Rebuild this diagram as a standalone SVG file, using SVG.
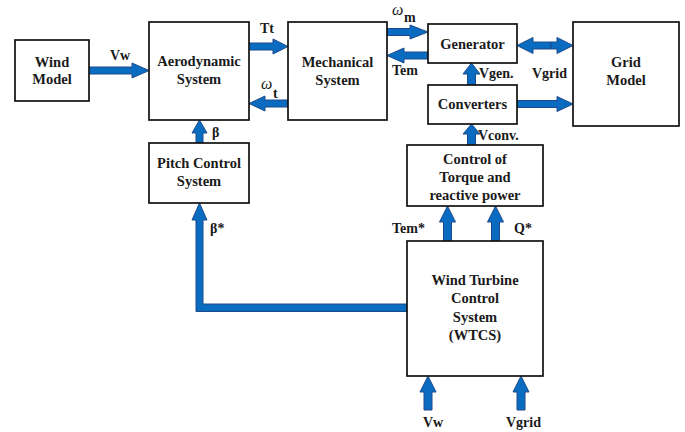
<svg xmlns="http://www.w3.org/2000/svg" width="685" height="432" viewBox="0 0 685 432">
  <style>
    .box { fill: #ffffff; stroke: #111111; stroke-width: 1.7; }
    .arr { fill: #0a6cc0; stroke: #1d4a8a; stroke-width: 1; stroke-linejoin: miter; }
    .t { font-family: "Liberation Serif", "Times New Roman", serif; font-weight: bold; font-size: 14.5px; fill: #1a1a1a; text-anchor: middle; }
    .lbl { font-family: "Liberation Serif", "Times New Roman", serif; font-weight: bold; font-size: 14px; fill: #1a1a1a; }
    .om { font-family: "Liberation Serif", "Times New Roman", serif; font-style: italic; font-size: 16px; fill: #1a1a1a; }
    .sub { font-family: "Liberation Serif", "Times New Roman", serif; font-weight: bold; font-size: 14px; fill: #1a1a1a; }
  </style>

  <!-- connectors -->
  <g id="connectors">
    <!-- Wind Model -> Aerodynamic (Vw) -->
    <polygon class="arr" points="89,67 132,67 132,63 149,70.5 132,78 132,74 89,74"/>
    <!-- Aerodynamic -> Mechanical (Tt) -->
    <polygon class="arr" points="249,43 273,43 273,39 288,46.5 273,54 273,50 249,50"/>
    <!-- Mechanical -> Aerodynamic (omega t) -->
    <polygon class="arr" points="288,100 265,100 265,96 249,103.5 265,111 265,107 288,107"/>
    <!-- Mechanical -> Generator (omega m) -->
    <polygon class="arr" points="387,28.5 410,28.5 410,25 428,32 410,39 410,35.5 387,35.5"/>
    <!-- Generator -> Mechanical (Tem) -->
    <polygon class="arr" points="428,52 404,52 404,48 387,55.5 404,63 404,59 428,59"/>
    <!-- Generator <-> Grid Model -->
    <polygon class="arr" points="517,45.5 533,37.5 533,42 551,42 551,49 533,49 533,53.5"/>
    <polygon class="arr" points="573,45.5 557,37.5 557,42 551,42 551,49 557,49 557,53.5"/>
    <!-- Converters -> Grid Model -->
    <polygon class="arr" points="517,100.5 557,100.5 557,96.5 573,104 557,111.5 557,107.5 517,107.5"/>
    <!-- Converters -> Generator (Vgen.) -->
    <polygon class="arr" points="467.5,85 467.5,74 463,74 471.5,63 480,74 475.5,74 475.5,85"/>
    <!-- Control of Torque -> Converters (Vconv.) -->
    <polygon class="arr" points="467.5,145 467.5,134 463,134 471.5,124 480,134 475.5,134 475.5,145"/>
    <!-- Pitch Control -> Aerodynamic (beta) -->
    <polygon class="arr" points="196,143 196,133 192,133 199.5,120 207,133 203,133 203,143"/>
    <!-- WTCS -> Pitch Control (beta*) -->
    <polygon class="arr" points="407,311.5 196,311.5 196,220 192,220 199.5,203 207,220 203,220 203,304 407,304"/>
    <!-- WTCS -> Control of Torque (Tem*, Q*) -->
    <polygon class="arr" points="443.5,241 443.5,222 439.5,222 447.5,206 455.5,222 451.5,222 451.5,241"/>
    <polygon class="arr" points="491.5,241 491.5,222 487.5,222 495.5,206 503.5,222 499.5,222 499.5,241"/>
    <!-- External inputs to WTCS (Vw, Vgrid) -->
    <polygon class="arr" points="424,410 424,392 420,392 428,376 436,392 432,392 432,410"/>
    <polygon class="arr" points="517,410 517,392 513,392 521,376 529,392 525,392 525,410"/>
  </g>

  <!-- nodes -->
  <g id="wind-model">
    <rect class="box" x="15" y="40" width="74" height="61"/>
    <text class="t" x="52" y="67">Wind</text>
    <text class="t" x="52" y="84">Model</text>
  </g>
  <g id="aerodynamic-system">
    <rect class="box" x="149" y="22" width="100" height="98"/>
    <text class="t" x="199" y="66">Aerodynamic</text>
    <text class="t" x="199" y="84">System</text>
  </g>
  <g id="mechanical-system">
    <rect class="box" x="288" y="22" width="99" height="98"/>
    <text class="t" x="337.5" y="67">Mechanical</text>
    <text class="t" x="337.5" y="85">System</text>
  </g>
  <g id="generator">
    <rect class="box" x="428" y="24" width="89" height="39"/>
    <text class="t" x="472.5" y="49">Generator</text>
  </g>
  <g id="converters">
    <rect class="box" x="428" y="85" width="89" height="39"/>
    <text class="t" x="472.5" y="109">Converters</text>
  </g>
  <g id="grid-model">
    <rect class="box" x="573" y="22" width="106" height="104"/>
    <text class="t" x="626" y="67">Grid</text>
    <text class="t" x="626" y="85">Model</text>
  </g>
  <g id="pitch-control">
    <rect class="box" x="149" y="143" width="100" height="60"/>
    <text class="t" x="199" y="168">Pitch Control</text>
    <text class="t" x="199" y="186">System</text>
  </g>
  <g id="torque-control">
    <rect class="box" x="407" y="145" width="136" height="61"/>
    <text class="t" x="475" y="164">Control of</text>
    <text class="t" x="475" y="182">Torque and</text>
    <text class="t" x="475" y="200">reactive power</text>
  </g>
  <g id="wtcs">
    <rect class="box" x="407" y="241" width="136" height="135"/>
    <text class="t" x="475" y="285">Wind Turbine</text>
    <text class="t" x="475" y="303">Control</text>
    <text class="t" x="475" y="322">System</text>
    <text class="t" x="475" y="340">(WTCS)</text>
  </g>

  <!-- signal labels -->
  <g id="labels">
    <text class="lbl" x="110" y="60">Vw</text>
    <text class="lbl" x="260" y="33">Tt</text>
    <text class="om" x="261" y="89">ω</text>
    <text class="sub" x="273" y="98">t</text>
    <text class="om" x="392" y="15">ω</text>
    <text class="sub" x="404" y="22">m</text>
    <text class="lbl" x="392" y="75">Tem</text>
    <text class="lbl" x="479" y="78">Vgen.</text>
    <text class="lbl" x="532" y="78">Vgrid</text>
    <text class="lbl" x="478" y="140">Vconv.</text>
    <text class="lbl" x="212" y="137">β</text>
    <text class="lbl" x="210" y="233">β*</text>
    <text class="lbl" x="392" y="233">Tem*</text>
    <text class="lbl" x="514" y="233">Q*</text>
    <text class="lbl" x="423" y="427">Vw</text>
    <text class="lbl" x="506" y="427">Vgrid</text>
  </g>
</svg>
